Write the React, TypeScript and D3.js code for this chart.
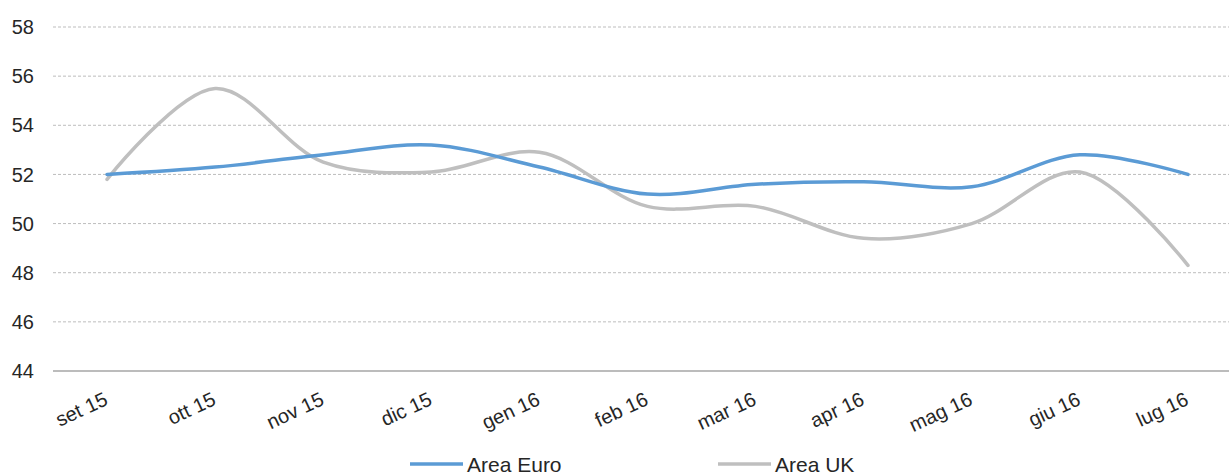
import React, { useRef, useEffect } from 'react';
import * as d3 from 'd3';

const months = ['set 15', 'ott 15', 'nov 15', 'dic 15', 'gen 16', 'feb 16', 'mar 16', 'apr 16', 'mag 16', 'giu 16', 'lug 16'];
const areaEuro = [52.0, 52.3, 52.8, 53.2, 52.3, 51.2, 51.6, 51.7, 51.5, 52.8, 52.0];
const areaUK = [51.8, 55.5, 52.5, 52.1, 52.9, 50.7, 50.7, 49.4, 50.0, 52.1, 48.3];
const yTicks = [44, 46, 48, 50, 52, 54, 56, 58];

const series = [
    { name: 'Area Euro', values: areaEuro, color: '#5b9bd5', legendX: 410 },
    { name: 'Area UK', values: areaUK, color: '#bfbfbf', legendX: 718 },
];

const W = 1229;
const H = 476;

const Chart: React.FC = () => {
    const svgRef = useRef<SVGSVGElement>(null);

    useEffect(() => {
        if (!svgRef.current) return;
        const svg = d3.select(svgRef.current);
        svg.selectAll('*').remove();

        const x = d3.scaleBand<string>().domain(months).range([53, 1242]);
        const y = d3.scaleLinear().domain([44, 58]).range([371, 27]);
        const cx = (m: string) => (x(m) || 0) + x.bandwidth() / 2;

        // gridlines
        svg.append('g')
            .selectAll('line')
            .data(yTicks.filter(t => t !== 44))
            .join('line')
            .attr('x1', 53)
            .attr('x2', W)
            .attr('y1', d => y(d))
            .attr('y2', d => y(d))
            .attr('stroke', '#bdbdbd')
            .attr('stroke-width', 1)
            .attr('stroke-dasharray', '3,2');

        // baseline
        svg.append('line')
            .attr('x1', 53).attr('x2', W)
            .attr('y1', y(44)).attr('y2', y(44))
            .attr('stroke', '#a6a6a6')
            .attr('stroke-width', 1.5);

        // y labels
        svg.append('g')
            .selectAll('text')
            .data(yTicks)
            .join('text')
            .attr('x', 34)
            .attr('y', d => y(d))
            .attr('dy', '0.36em')
            .attr('text-anchor', 'end')
            .attr('font-family', 'Liberation Sans, Arial, sans-serif')
            .attr('font-size', 20)
            .attr('fill', '#262626')
            .text(d => d);

        // x labels (rotated)
        svg.append('g')
            .selectAll('text')
            .data(months)
            .join('text')
            .attr('transform', d => `translate(${cx(d) + 2},404) rotate(-25)`)
            .attr('text-anchor', 'end')
            .attr('font-family', 'Liberation Sans, Arial, sans-serif')
            .attr('font-size', 20)
            .attr('fill', '#262626')
            .text(d => d);

        // lines
        const line = d3.line<number>()
            .x((d, i) => cx(months[i]))
            .y(d => y(d))
            .curve(d3.curveCatmullRom.alpha(0.5));

        series.slice().reverse().forEach(s => {
            svg.append('path')
                .datum(s.values)
                .attr('d', line)
                .attr('fill', 'none')
                .attr('stroke', s.color)
                .attr('stroke-width', 3.5)
                .attr('stroke-linecap', 'round');
        });

        // legend
        const leg = svg.append('g')
            .selectAll('g')
            .data(series)
            .join('g')
            .attr('transform', d => `translate(${d.legendX},464)`);
        leg.append('line')
            .attr('x1', 0).attr('x2', 53)
            .attr('stroke', d => d.color)
            .attr('stroke-width', 3.5);
        leg.append('text')
            .attr('x', 57)
            .attr('y', 8)
            .attr('font-family', 'Liberation Sans, Arial, sans-serif')
            .attr('font-size', 21)
            .attr('fill', '#262626')
            .text(d => d.name);
    }, []);

    return <svg ref={svgRef} width={W} height={H} style={{ position: 'absolute', left: 0, top: 0, background: '#fff' }} />;
};

export default function App() {
    return <Chart />;
}
